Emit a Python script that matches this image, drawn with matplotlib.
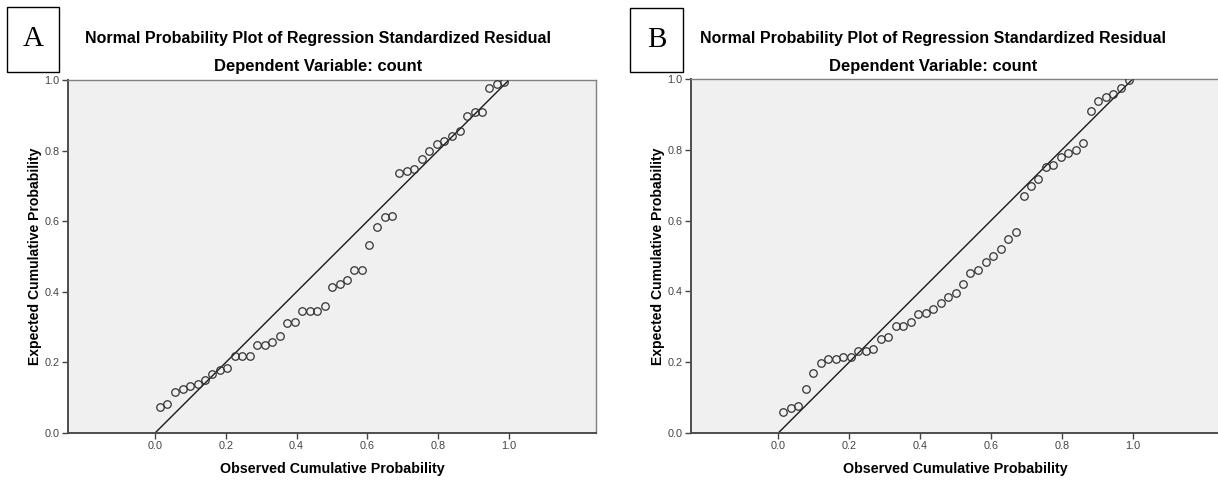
import matplotlib
matplotlib.use("Agg")
import matplotlib.pyplot as plt

plt.rcParams['font.family'] = ['Liberation Sans', 'DejaVu Sans']

# panel A: observed vs expected cumulative probability
obs_a = [0.014, 0.035, 0.056, 0.078, 0.099, 0.120, 0.141, 0.162, 0.184, 0.204,
         0.226, 0.247, 0.268, 0.289, 0.311, 0.331, 0.353, 0.374, 0.395, 0.416,
         0.438, 0.458, 0.480, 0.501, 0.522, 0.543, 0.563, 0.585, 0.605, 0.628,
         0.650, 0.670, 0.690, 0.712, 0.732, 0.754, 0.775, 0.797, 0.817, 0.839,
         0.861, 0.881, 0.903, 0.924, 0.945, 0.966, 0.987]
exp_a = [0.075, 0.082, 0.115, 0.126, 0.132, 0.140, 0.151, 0.167, 0.178, 0.183,
         0.218, 0.218, 0.218, 0.250, 0.250, 0.258, 0.275, 0.312, 0.314, 0.346,
         0.346, 0.346, 0.361, 0.414, 0.422, 0.433, 0.462, 0.462, 0.533, 0.584,
         0.613, 0.615, 0.736, 0.741, 0.747, 0.775, 0.799, 0.819, 0.827, 0.840,
         0.855, 0.898, 0.908, 0.909, 0.976, 0.988, 0.995]

# panel B
obs_b = [0.013, 0.036, 0.056, 0.077, 0.098, 0.120, 0.141, 0.163, 0.184, 0.204,
         0.226, 0.247, 0.268, 0.289, 0.310, 0.331, 0.352, 0.374, 0.395, 0.416,
         0.437, 0.458, 0.479, 0.500, 0.521, 0.542, 0.564, 0.586, 0.606, 0.627,
         0.649, 0.670, 0.692, 0.713, 0.734, 0.755, 0.776, 0.797, 0.818, 0.839,
         0.861, 0.882, 0.903, 0.924, 0.945, 0.967, 0.990]
exp_b = [0.060, 0.070, 0.076, 0.125, 0.170, 0.198, 0.208, 0.208, 0.214, 0.214,
         0.232, 0.232, 0.237, 0.266, 0.271, 0.303, 0.303, 0.313, 0.335, 0.340,
         0.349, 0.368, 0.385, 0.395, 0.420, 0.453, 0.460, 0.482, 0.501, 0.519,
         0.549, 0.568, 0.669, 0.698, 0.718, 0.751, 0.758, 0.779, 0.792, 0.799,
         0.819, 0.910, 0.939, 0.950, 0.958, 0.975, 0.997]

ticks = [0.0, 0.2, 0.4, 0.6, 0.8, 1.0]
tick_labels = ['0.0', '0.2', '0.4', '0.6', '0.8', '1.0']

W, H = 1218, 480
fig = plt.figure(figsize=(W / 100, H / 100), dpi=100)


def draw_panel(rect, obs, exp, letter, box, title_x):
    ax = fig.add_axes(rect)
    ax.set_facecolor('#f0f0f0')
    ax.plot([0, 1], [0, 1], color='#1a1a1a', lw=1.0, zorder=2)
    ax.plot(obs, exp, 'o', ms=5.4, mfc='none', mec='#333333', mew=0.9, zorder=3)
    ax.set_xlim(-0.246, 1.246)
    ax.set_ylim(0, 1)
    ax.set_xticks(ticks)
    ax.set_xticklabels(tick_labels)
    ax.set_yticks(ticks)
    ax.set_yticklabels(tick_labels)
    ax.tick_params(labelsize=7.8, labelcolor='#444444', color='#444444',
                   length=4, width=1.0, pad=2)
    for s in ['left', 'bottom']:
        ax.spines[s].set_color('#4d4d4d')
        ax.spines[s].set_linewidth(1.4)
    for s in ['top', 'right']:
        ax.spines[s].set_color('#808080')
        ax.spines[s].set_linewidth(1.0)
    ax.set_xlabel('Observed Cumulative Probability', fontsize=10.3, fontweight='bold',
                  labelpad=8)
    ax.set_ylabel('Expected Cumulative Probability', fontsize=10.1, fontweight='bold',
                  labelpad=2)

    # titles
    fig.text(title_x / W, 1 - 38 / H,
             'Normal Probability Plot of Regression Standardized Residual',
             ha='center', va='center', fontsize=11.5, fontweight='bold')
    fig.text(title_x / W, 1 - 67 / H, 'Dependent Variable: count',
             ha='center', va='center', fontsize=11.9, fontweight='bold')

    # panel letter in a box
    x0, y0, x1, y1 = box
    fig.patches.append(plt.Rectangle((x0 / W, 1 - y1 / H), (x1 - x0) / W, (y1 - y0) / H,
                                     transform=fig.transFigure, fill=False,
                                     edgecolor='black', lw=1.0))
    fig.text((x0 + x1) / 2 / W, 1 - (y0 + y1) / 2 / H, letter, ha='center', va='center',
             fontsize=21, family=['Liberation Serif', 'DejaVu Serif'])
    return ax


draw_panel([68 / W, 47 / H, 528 / W, 353 / H], obs_a, exp_a, 'A', (7, 7, 59, 72), 318)
draw_panel([691 / W, 47 / H, 529 / W, 354 / H], obs_b, exp_b, 'B', (630, 8, 683, 72), 933)

fig.savefig('out.png', dpi=100)
